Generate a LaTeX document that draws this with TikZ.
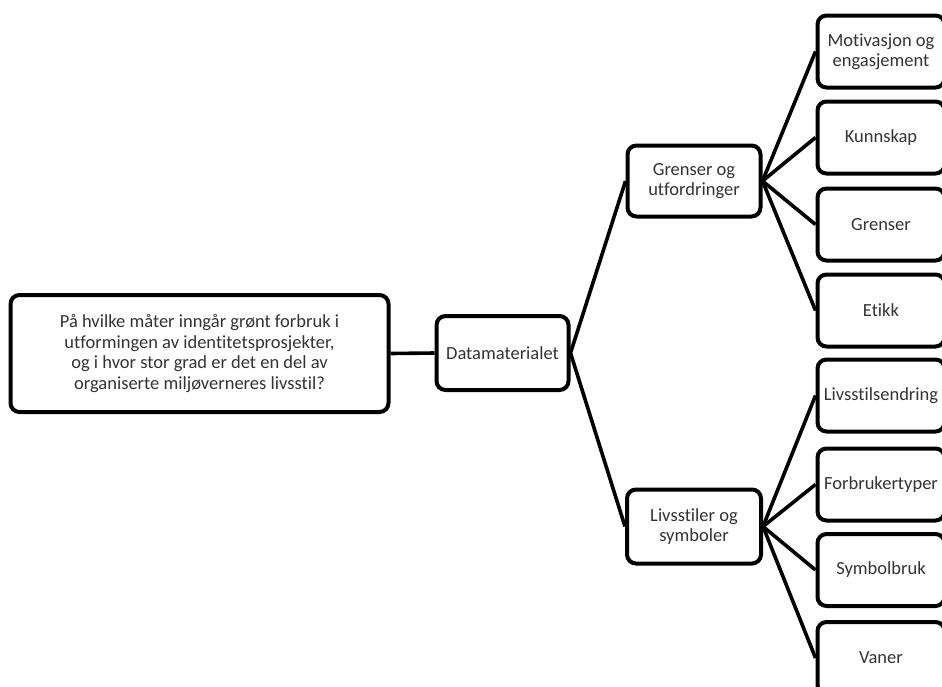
\documentclass[tikz,border=0pt]{standalone}
\usepackage{fontspec}
\setmainfont[Ligatures=NoCommon]{Carlito}
\begin{document}
\begin{tikzpicture}[x=1pt,y=1pt,
  boks/.style={draw,line width=4pt,rounded corners=9pt,align=center,inner sep=0pt,
    text=black!80,font=\fontsize{18.5}{20.5}\selectfont},
  tema/.style={boks,minimum width=127,minimum height=72},
  linje/.style={line width=3.6pt}]
\useasboundingbox (0,0) rectangle (942,-686);
\clip (0,0) rectangle (942,-686);
\node[boks,minimum width=378,minimum height=117] (sporsmal) at (199.5,-353.5)
  {På hvilke måter inngår grønt forbruk i\\utformingen av identitetsprosjekter,\\og i hvor stor grad er det en del av\\organiserte miljøverneres livsstil?};
\node[boks,minimum width=132,minimum height=74] (data) at (502.5,-353) {Datamaterialet};
\node[boks,minimum width=133,minimum height=71] (grenser) at (694,-181) {Grenser og\\utfordringer};
\node[boks,minimum width=134,minimum height=74] (livsstil) at (694,-526.5) {Livsstiler og\\symboler};
\node[tema] (motiv) at (881,-51.5) {Motivasjon og\\engasjement};
\node[tema] (kunn) at (881,-137.5) {Kunnskap};
\node[tema] (gr) at (881,-224.5) {Grenser};
\node[tema] (etikk) at (881,-310.5) {Etikk};
\node[tema] (endring) at (881,-395.5) {Livsstilsendring};
\node[tema] (typer) at (881,-484.5) {Forbrukertyper};
\node[tema] (symbol) at (881,-570) {Symbolbruk};
\node[tema] (vaner) at (881,-658) {Vaner};
\draw[linje] (sporsmal.east) -- (data.west);
\draw[linje] (data.east) -- (grenser.west);
\draw[linje] (data.east) -- (livsstil.west);
\draw[linje] (grenser.east) -- (motiv.west);
\draw[linje] (grenser.east) -- (kunn.west);
\draw[linje] (grenser.east) -- (gr.west);
\draw[linje] (grenser.east) -- (etikk.west);
\draw[linje] (livsstil.east) -- (endring.west);
\draw[linje] (livsstil.east) -- (typer.west);
\draw[linje] (livsstil.east) -- (symbol.west);
\draw[linje] (livsstil.east) -- (vaner.west);
\end{tikzpicture}
\end{document}
